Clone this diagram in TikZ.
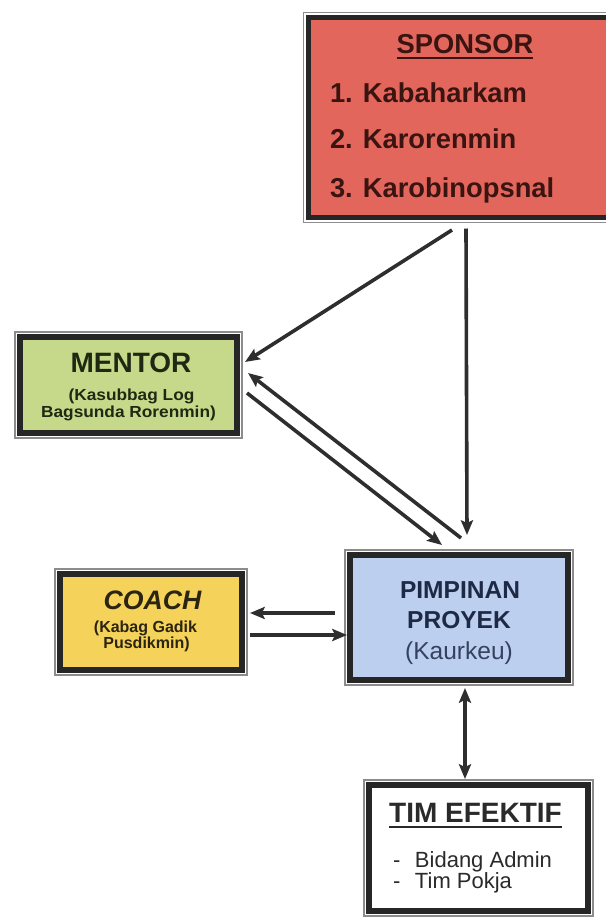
\documentclass[tikz,border=0pt]{standalone}
\usepackage{fontspec}
\setmainfont{Liberation Sans}
\usepackage{graphicx}
\usetikzlibrary{arrows.meta,calc}
\definecolor{sponsorfill}{HTML}{E2665C}
\definecolor{mentorfill}{HTML}{C6D98A}
\definecolor{coachfill}{HTML}{F5D25A}
\definecolor{ppfill}{HTML}{BCCFEE}
\definecolor{boxline}{HTML}{262626}
\definecolor{framegray}{HTML}{8C8C8C}
\definecolor{arrowgray}{HTML}{2E2E2E}
\definecolor{sptext}{HTML}{3A1410}
\definecolor{mentext}{HTML}{1F2812}
\definecolor{coachtext}{HTML}{2A2410}
\definecolor{pptext}{HTML}{1E2A45}
\definecolor{pptext2}{HTML}{34425F}
\definecolor{timtext}{HTML}{2A2A2A}
\begin{document}
\begin{tikzpicture}[x=0.75pt,y=-0.75pt,
  boxstyle/.style={draw=boxline, line width=4pt, inner sep=0pt, outer sep=0pt},
  framestyle/.style={draw=framegray, line width=0.8pt},
  conn/.style={draw=arrowgray, line width=2.7pt, -{Stealth[length=11pt,width=9pt,inset=2pt]}},
  dconn/.style={draw=arrowgray, line width=2.7pt, {Stealth[length=11pt,width=9pt,inset=2pt]}-{Stealth[length=11pt,width=9pt,inset=2pt]}},
  lbl/.style={inner sep=0pt, outer sep=0pt, anchor=base},
  lblw/.style={inner sep=0pt, outer sep=0pt, anchor=base west}
]
\useasboundingbox (0,0) rectangle (606,918);
\clip (0,0) rectangle (606,918);

% boxes
\node[boxstyle, fill=sponsorfill, minimum width=312*0.75pt, minimum height=200*0.75pt] (sp) at (464.5,117.5) {};
\node[boxstyle, fill=mentorfill, minimum width=217*0.75pt, minimum height=96*0.75pt] (men) at (128.5,385) {};
\node[boxstyle, fill=coachfill, minimum width=182*0.75pt, minimum height=96*0.75pt] (coach) at (151,622) {};
\node[boxstyle, fill=ppfill, minimum width=218*0.75pt, minimum height=125*0.75pt] (pp) at (459,617.5) {};
\node[boxstyle, fill=white, minimum width=219*0.75pt, minimum height=126*0.75pt] (tim) at (478.5,848) {};

% outer thin frames
\foreach \n in {sp,men,coach,pp,tim}{
  \draw[framestyle] ($(\n.south west)+(-5,5)$) rectangle ($(\n.north east)+(5,-5)$);
}

% sponsor text
\node[lbl, text=sptext, font=\fontsize{20.5pt}{24pt}\selectfont\bfseries] (spt) at (465,53) {SPONSOR};
\draw[sptext, line width=1.5pt] ($(spt.base west)+(0,5)$) -- ($(spt.base east)+(0,5)$);
\node[lblw, text=sptext, font=\fontsize{20.5pt}{24pt}\selectfont\bfseries] (sp1) at (330,102) {1. Kabaharkam};
\node[lblw, text=sptext, font=\fontsize{20.5pt}{24pt}\selectfont\bfseries] (sp2) at (330,148) {2. Karorenmin};
\node[lblw, text=sptext, font=\fontsize{20.5pt}{24pt}\selectfont\bfseries] (sp3) at (330,197) {3. Karobinopsnal};

% mentor text
\node[lbl, text=mentext, font=\fontsize{21pt}{24pt}\selectfont\bfseries] (ment) at (131,372) {MENTOR};
\node[lbl, text=mentext, font=\fontsize{12pt}{14pt}\selectfont\bfseries] (men1) at (131.5,400) {\scalebox{1.08}[1]{(Kasubbag Log}};
\node[lbl, text=mentext, font=\fontsize{12pt}{14pt}\selectfont\bfseries] (men2) at (128.5,417) {\scalebox{1.08}[1]{Bagsunda Rorenmin)}};

% coach text
\node[lbl, text=coachtext, font=\fontsize{20pt}{22pt}\selectfont\bfseries\itshape] (coacht) at (152.5,609) {COACH};
\node[lbl, text=coachtext, font=\fontsize{12pt}{14pt}\selectfont\bfseries] (coach1) at (145.5,632) {(Kabag Gadik};
\node[lbl, text=coachtext, font=\fontsize{12pt}{14pt}\selectfont\bfseries] (coach2) at (146.5,648) {Pusdikmin)};

% pimpinan text
\node[lbl, text=pptext, font=\fontsize{18.4pt}{22pt}\selectfont\bfseries] (ppt1) at (460,598) {PIMPINAN};
\node[lbl, text=pptext, font=\fontsize{18.4pt}{22pt}\selectfont\bfseries] (ppt2) at (459,628) {PROYEK};
\node[lbl, text=pptext2, font=\fontsize{18.4pt}{22pt}\selectfont] (ppt3) at (459,659) {(Kaurkeu)};

% tim efektif text
\node[lbl, text=timtext, font=\fontsize{21pt}{24pt}\selectfont\bfseries] (timt) at (475.5,822) {TIM EFEKTIF};
\draw[timtext, line width=1.5pt] ($(timt.base west)+(0,5)$) -- ($(timt.base east)+(0,5)$);
\node[lblw, text=timtext, font=\fontsize{16.5pt}{20pt}\selectfont] (tim1) at (393,867) {\makebox[16.5pt][l]{-}Bidang Admin};
\node[lblw, text=timtext, font=\fontsize{16.5pt}{20pt}\selectfont] (tim2) at (393,888) {\makebox[16.5pt][l]{-}Tim Pokja};

% connectors
\draw[conn] ($(sp.south)+(-12.5,12.5)$) -- ($(men.north east)+(8,25)$);
\draw[conn] ($(sp.south)+(1.5,11)$) -- ($(pp.north)+(8,-20)$);
\draw[conn] ($(pp.north)+(2,-17)$) -- ($(men.north east)+(11,36)$);
\draw[conn] ($(men.north east)+(10,56)$) -- ($(pp.north)+(-17,-10)$);
\draw[conn] ($(pp.west)+(-15,-4.5)$) -- ($(coach.east)+(8,-9)$);
\draw[conn] ($(coach.east)+(8,13)$) -- ($(pp.west)+(-3,17.5)$);
\draw[dconn] ($(pp.south)+(6,8)$) -- ($(tim.north)+(-13.5,-6)$);
\end{tikzpicture}
\end{document}
